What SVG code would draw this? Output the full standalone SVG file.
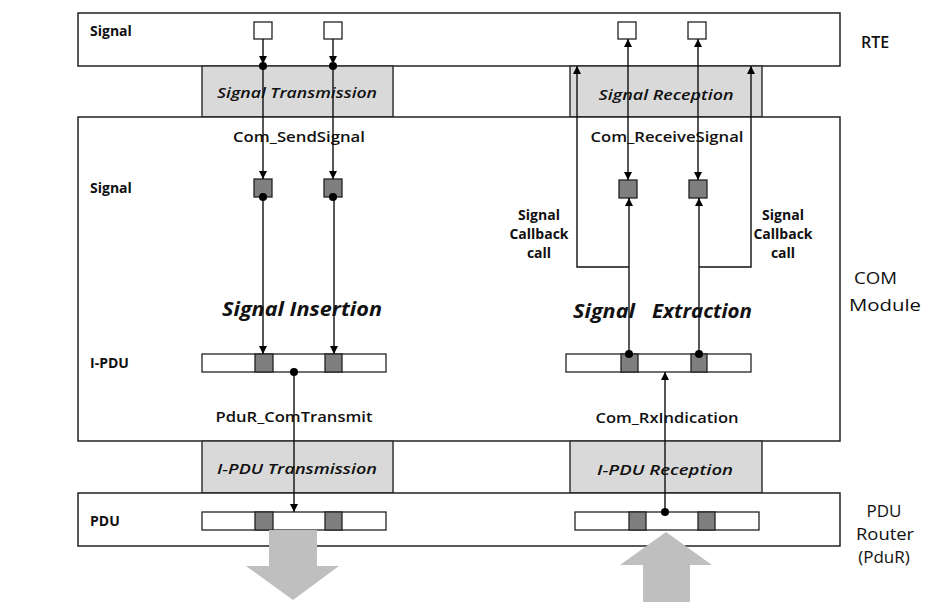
<svg xmlns="http://www.w3.org/2000/svg" width="928" height="602" viewBox="0 0 928 602">
<defs>
<marker id="arr" viewBox="0 0 8 8" refX="8" refY="4" markerWidth="8" markerHeight="8" orient="auto-start-reverse" markerUnits="userSpaceOnUse"><path d="M0,0 L8,4 L0,8 z" fill="#000"/></marker>
<style>
.layer{fill:#fff;stroke:#222;stroke-width:1.5}
.proc{fill:#d9d9d9;stroke:#333;stroke-width:1.5}
.sq{fill:#fff;stroke:#222;stroke-width:1.3}
.dk{fill:#7f7f7f;stroke:#222;stroke-width:1.3}
.bar{fill:#fff;stroke:#222;stroke-width:1.3}
.ln{fill:none;stroke:#111;stroke-width:1.4}
.big{fill:#bfbfbf}
text{font-family:"Open Sans","Noto Sans","Liberation Sans",sans-serif;fill:#111}
.lbl{font-size:14px;font-weight:bold}
.fn{font-size:15px;font-weight:600}
.it{font-size:15px;font-style:italic;font-weight:600}
.bi{font-size:20px;font-style:italic;font-weight:bold}
.side{font-size:17px}
.cb{font-size:14px;font-weight:bold;text-anchor:middle}
</style>
</defs>

<g id="rte">
<rect class="layer" x="78" y="13" width="762" height="53"/>
<text class="lbl" x="90" y="36">Signal</text>
<text x="861" y="48" font-weight="600" font-size="16">RTE</text>
<rect class="sq" x="254" y="22" width="18" height="17"/>
<rect class="sq" x="324" y="22" width="18" height="17"/>
<rect class="sq" x="618" y="22" width="18" height="17"/>
<rect class="sq" x="688" y="22" width="18" height="17"/>
</g>

<g id="signal-transmission">
<rect class="proc" x="202" y="66" width="191" height="51"/>
<text class="it" x="297" y="98" text-anchor="middle" textLength="160" lengthAdjust="spacingAndGlyphs">Signal Transmission</text>
</g>

<g id="signal-reception">
<rect class="proc" x="570" y="66" width="192" height="51"/>
<text class="it" x="666" y="100" text-anchor="middle" textLength="135" lengthAdjust="spacingAndGlyphs">Signal Reception</text>
</g>

<g id="com">
<rect class="layer" x="78" y="117" width="762" height="324"/>
<text class="fn" x="299" y="142" text-anchor="middle" textLength="132" lengthAdjust="spacingAndGlyphs">Com_SendSignal</text>
<text class="fn" x="667" y="142" text-anchor="middle" textLength="153" lengthAdjust="spacingAndGlyphs">Com_ReceiveSignal</text>
<text class="lbl" x="90" y="193">Signal</text>
<text class="lbl" x="90" y="368">I-PDU</text>
<rect class="dk" x="254" y="179" width="18" height="18"/>
<rect class="dk" x="324" y="179" width="18" height="18"/>
<rect class="dk" x="619" y="180" width="18" height="18"/>
<rect class="dk" x="689" y="180" width="18" height="18"/>
<text class="bi" x="302" y="316" text-anchor="middle" textLength="160" lengthAdjust="spacingAndGlyphs">Signal Insertion</text>
<text class="bi" x="573" y="318" textLength="62" lengthAdjust="spacingAndGlyphs">Signal</text>
<text class="bi" x="652" y="318" textLength="100" lengthAdjust="spacingAndGlyphs">Extraction</text>
<text class="cb" x="539" y="220">Signal</text>
<text class="cb" x="539" y="239">Callback</text>
<text class="cb" x="539" y="258">call</text>
<text class="cb" x="783" y="220">Signal</text>
<text class="cb" x="783" y="239">Callback</text>
<text class="cb" x="783" y="258">call</text>
<g id="ipdu-tx">
<rect class="bar" x="202" y="354" width="184" height="18"/>
<rect class="dk" x="255" y="354" width="18" height="18"/>
<rect class="dk" x="325" y="354" width="17" height="18"/>
</g>
<g id="ipdu-rx">
<rect class="bar" x="566" y="354" width="185" height="18"/>
<rect class="dk" x="621" y="354" width="17" height="18"/>
<rect class="dk" x="691" y="354" width="16" height="18"/>
</g>
<text class="fn" x="294" y="422" text-anchor="middle" textLength="157" lengthAdjust="spacingAndGlyphs">PduR_ComTransmit</text>
<text class="fn" x="667" y="423" text-anchor="middle" textLength="143" lengthAdjust="spacingAndGlyphs">Com_RxIndication</text>
<text class="side" x="854" y="284" font-size="20" textLength="43" lengthAdjust="spacingAndGlyphs">COM</text>
<text class="side" x="849" y="311" font-size="20" textLength="72" lengthAdjust="spacingAndGlyphs">Module</text>
</g>

<g id="ipdu-transmission">
<rect class="proc" x="202" y="441" width="191" height="52"/>
<text class="it" x="297" y="474" text-anchor="middle" textLength="160" lengthAdjust="spacingAndGlyphs">I-PDU Transmission</text>
</g>

<g id="ipdu-reception">
<rect class="proc" x="570" y="441" width="192" height="52"/>
<text class="it" x="665" y="475" text-anchor="middle" textLength="136" lengthAdjust="spacingAndGlyphs">I-PDU Reception</text>
</g>

<g id="pdur">
<rect class="layer" x="78" y="493" width="762" height="53"/>
<text class="lbl" x="90" y="526">PDU</text>
<rect class="bar" x="202" y="512" width="184" height="18"/>
<rect class="dk" x="255" y="512" width="18" height="18"/>
<rect class="dk" x="325" y="512" width="17" height="18"/>
<rect class="bar" x="575" y="512" width="184" height="18"/>
<rect class="dk" x="629" y="512" width="17" height="18"/>
<rect class="dk" x="698" y="512" width="17" height="18"/>
<text class="side" x="884" y="517" text-anchor="middle">PDU</text>
<text class="side" x="885" y="540" text-anchor="middle" textLength="58" lengthAdjust="spacingAndGlyphs">Router</text>
<text class="side" x="884" y="563" text-anchor="middle">(PduR)</text>
</g>

<g id="flow-arrows">
<path class="big" d="M269,530 H317 V566 H339 L293,600 L246,566 H269 Z"/>
<path class="big" d="M643,602 V565 H620 L666,532 L712,565 H690 V602 Z"/>
</g>

<g id="connectors">
<path class="ln" d="M263,39 V64" marker-end="url(#arr)"/>
<path class="ln" d="M333,39 V64" marker-end="url(#arr)"/>
<path class="ln" d="M263,66 V179" marker-end="url(#arr)"/>
<path class="ln" d="M333,66 V179" marker-end="url(#arr)"/>
<path class="ln" d="M263,197 V354" marker-end="url(#arr)"/>
<path class="ln" d="M334,197 V354" marker-end="url(#arr)"/>
<path class="ln" d="M294,372 V512" marker-end="url(#arr)"/>
<path class="ln" d="M628,180 V39" marker-start="url(#arr)" marker-end="url(#arr)"/>
<path class="ln" d="M698,180 V39" marker-start="url(#arr)" marker-end="url(#arr)"/>
<path class="ln" d="M629,354 V198" marker-end="url(#arr)"/>
<path class="ln" d="M699,354 V198" marker-end="url(#arr)"/>
<path class="ln" d="M629,267 H577 V66" marker-end="url(#arr)"/>
<path class="ln" d="M699,267 H751 V66" marker-end="url(#arr)"/>
<path class="ln" d="M665,512 V372" marker-end="url(#arr)"/>
<circle cx="263" cy="66" r="4"/>
<circle cx="333" cy="66" r="4"/>
<circle cx="263" cy="197" r="4"/>
<circle cx="333" cy="197" r="4"/>
<circle cx="294" cy="372" r="4"/>
<circle cx="629" cy="354" r="4"/>
<circle cx="699" cy="354" r="4"/>
<circle cx="665" cy="512" r="4"/>
</g>
</svg>
